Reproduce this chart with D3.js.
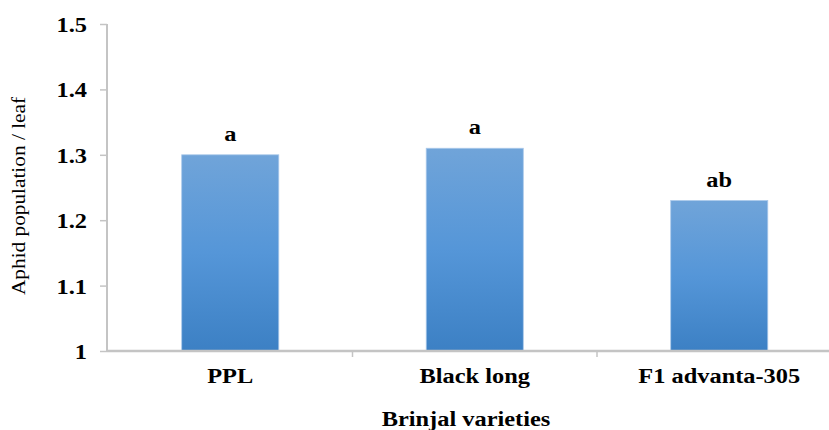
<!DOCTYPE html>
<html><head><meta charset="utf-8">
<script src="https://cdn.jsdelivr.net/npm/d3@7"></script>
<style>body{margin:0;background:#fff;}svg{display:block;}</style>
</head><body>
<svg id="chart" width="829" height="430"></svg>
<script>
const categories = ["PPL", "Black long", "F1 advanta-305"];
const values = [1.30, 1.31, 1.23];
const letters = ["a", "a", "ab"];
const yTicks = [1, 1.1, 1.2, 1.3, 1.4, 1.5];
const yTitle = "Aphid population / leaf";
const xTitle = "Brinjal varieties";

const svg = d3.select("#chart");
const SX = 1.22;
const serif = "'Liberation Serif','Times New Roman',serif";

const defs = svg.append("defs");
const grad = defs.append("linearGradient").attr("id","barGrad")
  .attr("x1",0).attr("y1",0).attr("x2",0).attr("y2",1);
grad.append("stop").attr("offset","0%").attr("stop-color","#70a4d9");
grad.append("stop").attr("offset","50%").attr("stop-color","#5596d8");
grad.append("stop").attr("offset","100%").attr("stop-color","#3c80c4");

const y = d3.scaleLinear().domain([1, 1.5]).range([351, 24]);
const x = d3.scaleBand().domain(categories).range([108, 841.5])
  .paddingInner(0.603).paddingOuter(0.3015);

function stext(g, tx, ty, str, opts) {
  const sx = opts.sx || SX;
  const t = g.append("text")
    .attr("transform", `translate(${tx},${ty}) scale(${sx},1)` + (opts.rotate ? ` rotate(${opts.rotate})` : ""))
    .attr("font-family", serif)
    .attr("font-size", opts.size || 20)
    .attr("font-weight", opts.weight || "bold")
    .attr("text-anchor", opts.anchor || "middle")
    .attr("fill", "#000")
    .text(str);
  return t;
}

// Bars
svg.append("g").selectAll("rect").data(values).join("rect")
  .attr("x", (d,i) => x(categories[i]))
  .attr("y", d => y(d))
  .attr("width", x.bandwidth())
  .attr("height", d => y(1) - y(d))
  .attr("fill", "url(#barGrad)")
  .attr("stroke", "#a9c8ea")
  .attr("stroke-width", 0.8);

// Y axis
const yAxis = svg.append("g").attr("transform","translate(107,0)")
  .call(d3.axisLeft(y).tickValues(yTicks).tickSize(7).tickFormat(""));
yAxis.select(".domain").attr("stroke","#c4c4c4").attr("stroke-width",2)
  .attr("d", `M0,${y(1.5)}V${y(1)+1}`);
yAxis.selectAll(".tick line").attr("stroke","#c4c4c4").attr("stroke-width",1.5);

const yl = svg.append("g");
yTicks.forEach(t => stext(yl, 87, y(t) + 8, String(t), {anchor:"end"}));

// X axis
const xAxis = svg.append("g").attr("transform",`translate(0,${y(1)})`)
  .call(d3.axisBottom(x).tickSize(0).tickFormat(""));
xAxis.select(".domain").attr("stroke","#c4c4c4").attr("stroke-width",2.5)
  .attr("d", `M107,0H841`);
const step = x.step();
const bounds = categories.slice(1).map(c => x(c) - x.paddingInner()*step/2);
xAxis.selectAll(".bnd").data(bounds).join("line").attr("class","bnd")
  .attr("x1", d=>d).attr("x2", d=>d).attr("y1",0).attr("y2",6)
  .attr("stroke","#c4c4c4").attr("stroke-width",1.5);

const xl = svg.append("g");
categories.forEach(c => stext(xl, x(c) + x.bandwidth()/2, 383, c, {}));

// Letters
const ll = svg.append("g");
values.forEach((v,i) => stext(ll, x(categories[i]) + x.bandwidth()/2, y(v) - 14, letters[i], {}));

// Titles
stext(svg, 466, 426, xTitle, {});
stext(svg, 25, 196, yTitle, {rotate:-90, size:21.3, weight:"normal", sx:0.92});
</script>
</body></html>
